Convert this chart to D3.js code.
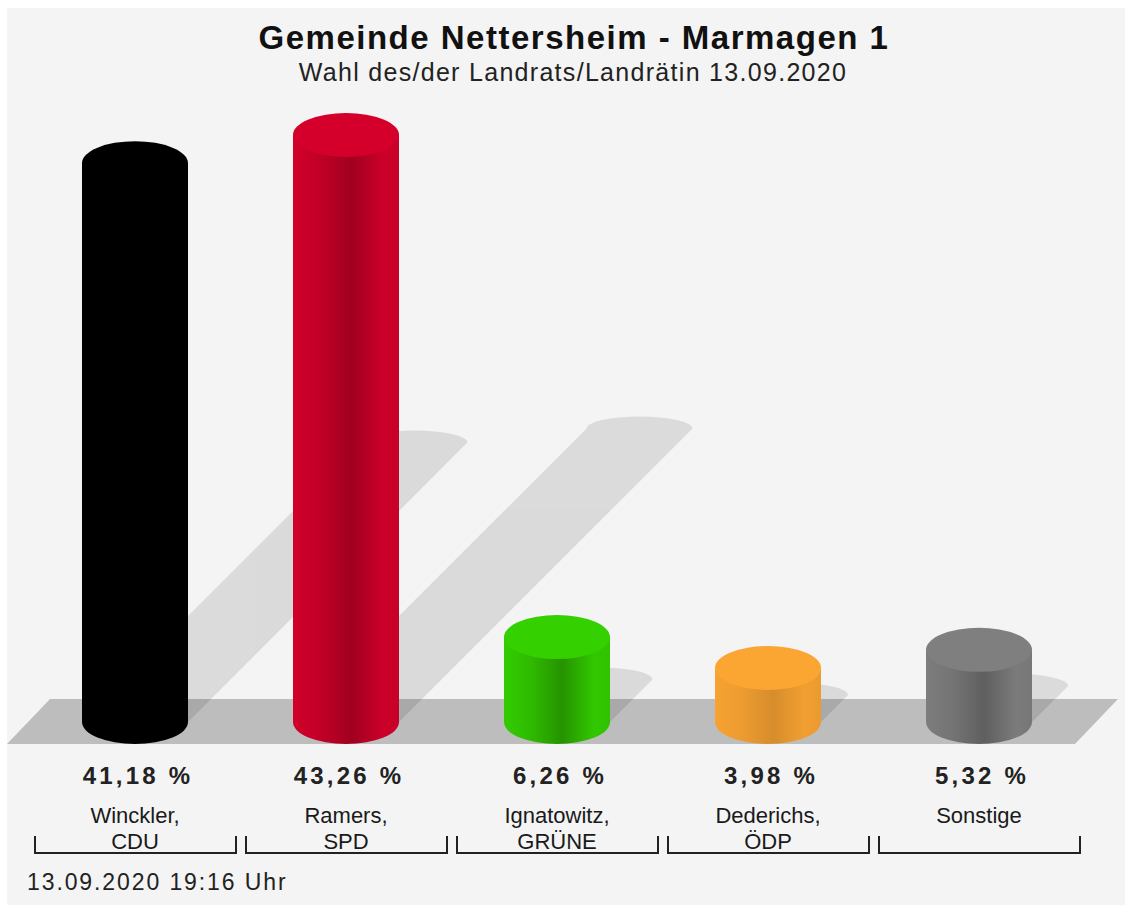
<!DOCTYPE html>
<html>
<head>
<meta charset="utf-8">
<script src="https://cdn.jsdelivr.net/npm/d3@7"></script>
<style>
  html, body { margin: 0; padding: 0; background: #ffffff; }
  svg { display: block; }
  text { font-family: "Liberation Sans", Arial, Helvetica, sans-serif; }
</style>
</head>
<body>
<svg id="chart" width="1130" height="908"></svg>
<script>
// ---- data ----
const candidates = ["Winckler,", "Ramers,", "Ignatowitz,", "Dederichs,", "Sonstige"];
const parties = ["CDU", "SPD", "GRÜNE", "ÖDP", ""];
const values = [41.18, 43.26, 6.26, 3.98, 5.32];
const barColors = ["#000000", "#d0002a", "#33cc00", "#f7a232", "#7d7d7d"];
const darkFactors = [1, 0.77, 0.72, 0.87, 0.76];
const title = "Gemeinde Nettersheim - Marmagen 1";
const subtitle = "Wahl des/der Landrats/Landrätin 13.09.2020";
const footer = "13.09.2020 19:16 Uhr";

// ---- layout ----
const svg = d3.select("#chart");
const defs = svg.append("defs");

const baseY = 722;          // centre of cylinder base ellipse
const pxPerUnit = 13.57;
const y = d3.scaleLinear().domain([0, 45]).range([baseY, baseY - 45 * pxPerUnit]);
const x = d3.scaleBand().domain(d3.range(values.length)).range([29.5, 1084.5]).padding(0);

const rx = 53, ry = 22;

// background panel
svg.append("rect").attr("x", 7).attr("y", 8).attr("width", 1118).attr("height", 897).attr("fill", "#f4f4f4");

// title
svg.append("text").attr("x", 574).attr("y", 49).attr("text-anchor", "middle")
  .attr("font-size", 33).attr("font-weight", "bold").attr("letter-spacing", 1.5).attr("fill", "#111")
  .text(title);
svg.append("text").attr("x", 573).attr("y", 81).attr("text-anchor", "middle")
  .attr("font-size", 25).attr("letter-spacing", 1.3).attr("fill", "#222")
  .text(subtitle);

// floor
const floorTop = 699, floorBot = 744;
svg.append("path")
  .attr("d", `M7,${floorBot} L50,${floorTop} L1118,${floorTop} L1075,${floorBot} Z`)
  .attr("fill", "#bdbdbd");

// shadows
const shadowG = svg.append("g").attr("opacity", 0.1);
values.forEach((v, i) => {
  const cx = x(i) + x.bandwidth() / 2;
  const h = baseY - y(v);
  const s = h * 0.5;
  shadowG.append("path")
    .attr("d", `M${cx - rx},${baseY} L${cx - rx + s},${baseY - s} A${rx},12 0 0 1 ${cx + rx + s},${baseY - s} L${cx + rx},${baseY} Z`)
    .attr("fill", "#000");
});

// gradients
function shade(c, k) { const col = d3.rgb(c); return d3.rgb(col.r * k, col.g * k, col.b * k).toString(); }
barColors.forEach((c, i) => {
  const k = darkFactors[i];
  const g = defs.append("linearGradient").attr("id", "grad" + i).attr("x1", 0).attr("x2", 1).attr("y1", 0).attr("y2", 0);
  g.append("stop").attr("offset", "0%").attr("stop-color", c);
  g.append("stop").attr("offset", "25%").attr("stop-color", shade(c, 1 - (1 - k) * 0.3));
  g.append("stop").attr("offset", "55%").attr("stop-color", shade(c, k));
  g.append("stop").attr("offset", "85%").attr("stop-color", shade(c, 0.98));
  g.append("stop").attr("offset", "100%").attr("stop-color", shade(c, 0.95));
});

// cylinders
const bars = svg.append("g");
values.forEach((v, i) => {
  const cx = x(i) + x.bandwidth() / 2;
  const top = y(v);
  bars.append("path")
    .attr("d", `M${cx - rx},${top} L${cx - rx},${baseY} A${rx},${ry} 0 0 0 ${cx + rx},${baseY} L${cx + rx},${top} Z`)
    .attr("fill", `url(#grad${i})`);
  bars.append("ellipse")
    .attr("cx", cx).attr("cy", top).attr("rx", rx).attr("ry", ry)
    .attr("fill", d3.rgb(barColors[i]).brighter(0.05).toString());
});

// labels
const fmt = v => v.toFixed(2).replace(".", ",") + " %";
values.forEach((v, i) => {
  const cx = x(i) + x.bandwidth() / 2;
  svg.append("text").attr("x", cx + 3).attr("y", 784).attr("text-anchor", "middle")
    .attr("font-size", 24).attr("font-weight", "bold").attr("letter-spacing", 3.2).attr("fill", "#222")
    .text(fmt(v));
  svg.append("text").attr("x", cx).attr("y", 823).attr("text-anchor", "middle")
    .attr("font-size", 22).attr("fill", "#1a1a1a").text(candidates[i]);
  if (parties[i]) {
    svg.append("text").attr("x", cx).attr("y", 849).attr("text-anchor", "middle")
      .attr("font-size", 22).attr("fill", "#1a1a1a").text(parties[i]);
  }
  const x0 = x(i) + 5.5, x1 = x(i) + x.bandwidth() - 4.5;
  svg.append("path")
    .attr("d", `M${x0},836 L${x0},853 L${x1},853 L${x1},836`)
    .attr("fill", "none").attr("stroke", "#222").attr("stroke-width", 2);
});

// footer
svg.append("text").attr("x", 27).attr("y", 890).attr("font-size", 23).attr("letter-spacing", 1.9).attr("fill", "#222")
  .text(footer);
</script>
</body>
</html>
